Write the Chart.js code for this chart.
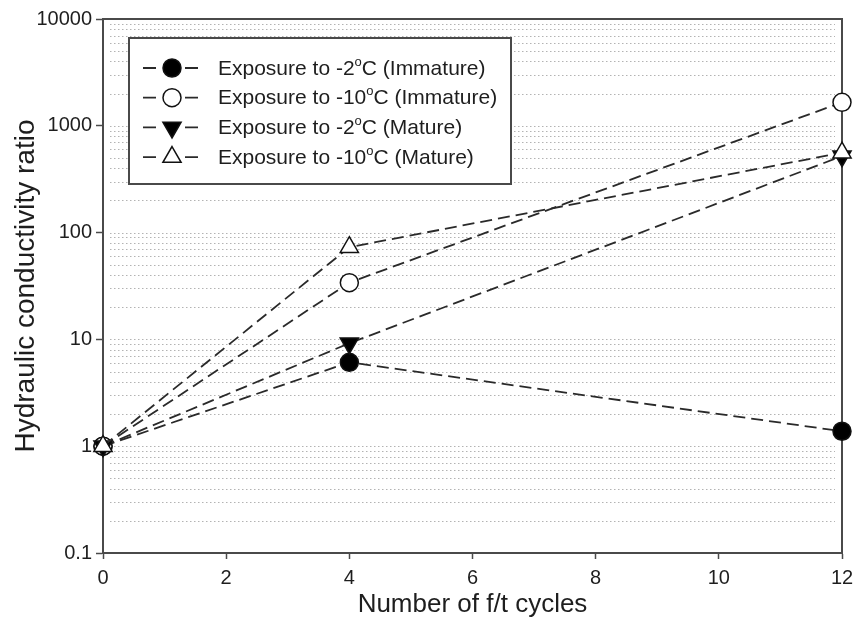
<!DOCTYPE html>
<html>
<head>
<meta charset="utf-8">
<script src="https://cdn.jsdelivr.net/npm/chart.js@4/dist/chart.umd.min.js"></script>
<style>
  html, body { margin: 0; padding: 0; background: #fff; }
  canvas { display: block; }
</style>
</head>
<body>
<canvas id="chart" width="854" height="623"></canvas>
<script>
const cycles = [0, 4, 12];
const immatureMinus2 = [1, 6.1, 1.38];
const immatureMinus10 = [1, 34, 1660];
const matureMinus2 = [1, 9.2, 520];
const matureMinus10 = [1, 73, 560];
const seriesLabels = [
  'Exposure to -2°C (Immature)',
  'Exposure to -10°C (Immature)',
  'Exposure to -2°C (Mature)',
  'Exposure to -10°C (Mature)'
];
const yTickValues = [0.1, 1, 10, 100, 1000, 10000];
const yTickLabels = ['0.1', '1', '10', '100', '1000', '10000'];
const xTickValues = [0, 2, 4, 6, 8, 10, 12];

const FONT = '"Liberation Sans", Arial, sans-serif';
const AXIS = '#4a4a4a';
const INK = '#1e1e1e';

function toPoints(values) {
  return cycles.map((c, i) => ({ x: c, y: values[i] }));
}

function series(label, values, style, fill, radius, rotation, order) {
  return {
    label: label,
    data: toPoints(values),
    borderColor: '#2a2a2a',
    borderWidth: 1.8,
    borderDash: [12, 6],
    pointStyle: style,
    pointRadius: radius,
    pointHoverRadius: radius,
    pointRotation: rotation,
    pointBackgroundColor: fill,
    pointBorderColor: '#111',
    pointBorderWidth: 1.5,
    clip: false,
    order: order
  };
}

const datasets = [
  series(seriesLabels[0], immatureMinus2, 'circle', '#000', 9, 0, 4),
  series(seriesLabels[1], immatureMinus10, 'circle', '#fff', 9, 0, 3),
  series(seriesLabels[2], matureMinus2, 'triangle', '#000', 10.5, 180, 2),
  series(seriesLabels[3], matureMinus10, 'triangle', '#fff', 10.5, 0, 1)
];

// dotted grid + top/right frame, drawn under the data
const framePlugin = {
  id: 'framePlugin',
  beforeDatasetsDraw(chart) {
    const ctx = chart.ctx;
    const area = chart.chartArea;
    const ys = chart.scales.y;
    ctx.save();
    ctx.strokeStyle = '#b3b3b3';
    ctx.lineWidth = 1.2;
    ctx.setLineDash([1.5, 2.5]);
    for (let d = 0; d < yTickValues.length - 1; d++) {
      for (let f = 1; f <= 9; f++) {
        const y = Math.round(ys.getPixelForValue(yTickValues[d] * f)) + 0.5;
        if (y >= area.bottom - 1) continue;
        ctx.beginPath();
        ctx.moveTo(area.left + 7, y);
        ctx.lineTo(area.right - 7, y);
        ctx.stroke();
      }
    }
    ctx.setLineDash([]);
    ctx.strokeStyle = AXIS;
    ctx.lineWidth = 2;
    ctx.beginPath();
    ctx.moveTo(area.left, area.top);
    ctx.lineTo(area.right, area.top);
    ctx.lineTo(area.right, area.bottom);
    ctx.stroke();
    ctx.restore();
  }
};

function drawLabel(ctx, text, x, y) {
  const parts = text.split('°');
  ctx.font = '21px ' + FONT;
  ctx.fillText(parts[0], x, y);
  let cx = x + ctx.measureText(parts[0]).width;
  if (parts.length > 1) {
    ctx.font = '13px ' + FONT;
    ctx.fillText('o', cx, y - 7);
    cx += ctx.measureText('o').width;
    ctx.font = '21px ' + FONT;
    ctx.fillText(parts[1], cx, y);
  }
}

const legendPlugin = {
  id: 'boxLegend',
  afterDraw(chart) {
    const ctx = chart.ctx;
    const area = chart.chartArea;
    const bx = area.left + 26, by = area.top + 19, bw = 382, bh = 146;
    ctx.save();
    ctx.fillStyle = '#fff';
    ctx.fillRect(bx, by, bw, bh);
    ctx.strokeStyle = AXIS;
    ctx.lineWidth = 2;
    ctx.strokeRect(bx, by, bw, bh);
    datasets.forEach((ds, i) => {
      const y = by + 30 + i * 29.7;
      const mx = bx + 43;
      ctx.strokeStyle = '#2a2a2a';
      ctx.lineWidth = 1.8;
      ctx.beginPath();
      ctx.moveTo(bx + 14, y);
      ctx.lineTo(bx + 27, y);
      ctx.moveTo(bx + 56, y);
      ctx.lineTo(bx + 69, y);
      ctx.stroke();
      ctx.fillStyle = ds.pointBackgroundColor;
      ctx.strokeStyle = ds.pointBorderColor;
      ctx.lineWidth = ds.pointBorderWidth;
      Chart.helpers.drawPoint(ctx, {
        pointStyle: ds.pointStyle,
        radius: ds.pointRadius,
        rotation: ds.pointRotation,
        borderWidth: ds.pointBorderWidth
      }, mx, y);
      ctx.fillStyle = INK;
      ctx.textBaseline = 'middle';
      ctx.textAlign = 'left';
      drawLabel(ctx, ds.label, bx + 89, y + 1);
    });
    ctx.restore();
  }
};

new Chart(document.getElementById('chart'), {
  type: 'line',
  data: { datasets: datasets },
  options: {
    responsive: false,
    animation: false,
    events: [],
    layout: { padding: { top: 19, right: 0, left: 0, bottom: 0 } },
    plugins: {
      legend: { display: false },
      tooltip: { enabled: false }
    },
    scales: {
      x: {
        type: 'linear',
        min: 0,
        max: 12,
        afterBuildTicks: s => { s.ticks = xTickValues.map(v => ({ value: v })); },
        afterFit: s => { s.height = 70; s.paddingLeft = 0; s.paddingRight = 11; },
        ticks: { font: { family: FONT, size: 20 }, color: INK, padding: 7, maxRotation: 0 },
        grid: { drawOnChartArea: false, tickLength: 6, tickColor: AXIS, tickWidth: 1.5 },
        border: { color: AXIS, width: 2 },
        title: {
          display: true,
          text: 'Number of f/t cycles',
          font: { family: FONT, size: 26 },
          color: INK,
          padding: { top: 0, bottom: 3 }
        }
      },
      y: {
        type: 'logarithmic',
        min: 0.1,
        max: 10000,
        afterBuildTicks: s => { s.ticks = yTickValues.map(v => ({ value: v })); },
        afterFit: s => { s.width = 103; },
        ticks: {
          font: { family: FONT, size: 20 },
          color: INK,
          padding: 4,
          autoSkip: false,
          callback: v => yTickLabels[yTickValues.indexOf(v)]
        },
        grid: { drawOnChartArea: false, tickLength: 7, tickColor: AXIS, tickWidth: 1.5 },
        border: { color: AXIS, width: 2 },
        title: {
          display: true,
          text: 'Hydraulic conductivity ratio',
          font: { family: FONT, size: 28 },
          color: INK,
          padding: { top: 9, bottom: 0 }
        }
      }
    }
  },
  plugins: [framePlugin, legendPlugin]
});
</script>
</body>
</html>
